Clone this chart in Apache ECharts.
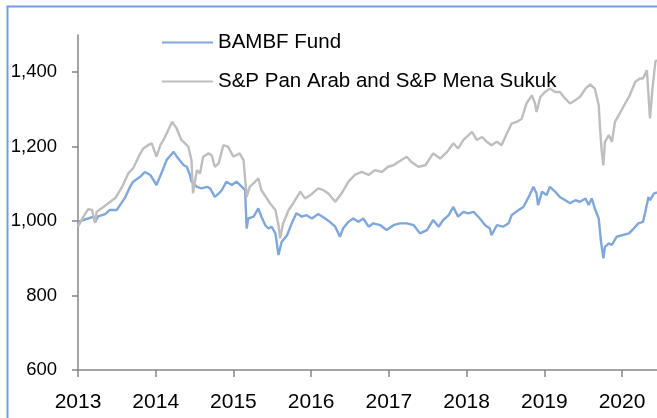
<!DOCTYPE html>
<html>
<head>
<meta charset="utf-8">
<script src="https://cdn.jsdelivr.net/npm/echarts@6/dist/echarts.min.js"></script>
<style>
  html, body { margin: 0; padding: 0; background: #fff; }
  #main { width: 657px; height: 418px; }
</style>
</head>
<body>
<div id="main"></div>
<script>
// tick labels
var yearTicks = [2013, 2014, 2015, 2016, 2017, 2018, 2019, 2020];
var valueTicks = [600, 800, 1000, 1200, 1400];

// series names
var fundName = 'BAMBF Fund';
var indexName = 'S&P Pan Arab and S&P Mena Sukuk';

// BAMBF Fund, [decimal year, value]
var fundData = [
  [2013.00, 998], [2013.07, 1003], [2013.13, 1007], [2013.20, 1012], [2013.22, 997],
  [2013.26, 1013], [2013.35, 1019], [2013.41, 1030], [2013.50, 1030], [2013.54, 1043],
  [2013.60, 1061], [2013.67, 1092], [2013.71, 1106], [2013.80, 1119], [2013.86, 1132],
  [2013.93, 1124], [2014.01, 1097], [2014.08, 1132], [2014.14, 1164], [2014.23, 1186],
  [2014.29, 1168], [2014.36, 1150], [2014.40, 1146], [2014.44, 1124], [2014.46, 1106],
  [2014.53, 1092], [2014.59, 1088], [2014.66, 1092], [2014.70, 1088], [2014.76, 1065],
  [2014.81, 1074], [2014.85, 1083], [2014.91, 1106], [2014.98, 1097], [2015.04, 1106],
  [2015.11, 1092], [2015.15, 1083], [2015.17, 980], [2015.19, 1007], [2015.26, 1012],
  [2015.32, 1034], [2015.36, 1012], [2015.41, 989], [2015.45, 980], [2015.49, 985],
  [2015.54, 967], [2015.58, 909], [2015.62, 944], [2015.69, 962], [2015.75, 994],
  [2015.81, 1021], [2015.88, 1012], [2015.94, 1016], [2016.01, 1007], [2016.09, 1019],
  [2016.18, 1007], [2016.24, 998], [2016.31, 985], [2016.37, 958], [2016.41, 980],
  [2016.48, 998], [2016.54, 1007], [2016.61, 998], [2016.67, 1007], [2016.74, 985],
  [2016.80, 994], [2016.89, 989], [2016.97, 976], [2017.06, 989], [2017.14, 994],
  [2017.23, 994], [2017.32, 989], [2017.40, 967], [2017.49, 976], [2017.57, 1003],
  [2017.64, 985], [2017.70, 1003], [2017.77, 1016], [2017.83, 1038], [2017.89, 1012],
  [2017.96, 1025], [2018.02, 1021], [2018.09, 1025], [2018.17, 1007], [2018.24, 989],
  [2018.30, 980], [2018.32, 962], [2018.39, 989], [2018.47, 985], [2018.54, 994],
  [2018.58, 1016], [2018.67, 1030], [2018.73, 1038], [2018.80, 1065], [2018.86, 1092],
  [2018.90, 1074], [2018.92, 1043], [2018.97, 1079], [2019.03, 1070], [2019.07, 1092],
  [2019.14, 1079], [2019.20, 1065], [2019.27, 1056], [2019.33, 1048], [2019.40, 1056],
  [2019.46, 1052], [2019.53, 1061], [2019.57, 1043], [2019.61, 1061], [2019.65, 1034],
  [2019.70, 1007], [2019.73, 944], [2019.76, 900], [2019.78, 931], [2019.83, 940],
  [2019.87, 936], [2019.93, 958], [2020.00, 962], [2020.09, 967], [2020.15, 980],
  [2020.21, 994], [2020.27, 998], [2020.30, 1025], [2020.34, 1065], [2020.36, 1056],
  [2020.41, 1074], [2020.45, 1077]
];

// S&P Pan Arab and S&P Mena Sukuk, [decimal year, value]
var indexData = [
  [2013.00, 985], [2013.07, 1012], [2013.13, 1032], [2013.18, 1030], [2013.22, 995],
  [2013.24, 1025], [2013.31, 1035], [2013.39, 1048], [2013.48, 1062], [2013.56, 1089],
  [2013.65, 1129], [2013.71, 1142], [2013.78, 1173], [2013.84, 1195], [2013.90, 1204],
  [2013.95, 1209], [2014.01, 1173], [2014.06, 1204], [2014.12, 1226], [2014.21, 1267],
  [2014.27, 1249], [2014.33, 1218], [2014.42, 1200], [2014.46, 1164], [2014.48, 1075],
  [2014.53, 1137], [2014.57, 1128], [2014.61, 1173], [2014.68, 1182], [2014.72, 1177],
  [2014.76, 1146], [2014.81, 1155], [2014.87, 1204], [2014.93, 1200], [2015.00, 1173],
  [2015.08, 1182], [2015.13, 1164], [2015.17, 1065], [2015.21, 1092], [2015.28, 1106],
  [2015.32, 1115], [2015.36, 1083], [2015.43, 1061], [2015.47, 1048], [2015.54, 1030],
  [2015.58, 989], [2015.60, 954], [2015.64, 994], [2015.71, 1030], [2015.77, 1048],
  [2015.86, 1079], [2015.92, 1061], [2015.99, 1070], [2016.09, 1088], [2016.16, 1083],
  [2016.22, 1074], [2016.31, 1052], [2016.39, 1074], [2016.48, 1106], [2016.56, 1124],
  [2016.65, 1132], [2016.74, 1124], [2016.82, 1137], [2016.91, 1132], [2016.99, 1146],
  [2017.06, 1150], [2017.12, 1159], [2017.23, 1173], [2017.29, 1159], [2017.38, 1146],
  [2017.47, 1150], [2017.57, 1182], [2017.66, 1168], [2017.75, 1186], [2017.83, 1209],
  [2017.89, 1195], [2017.96, 1218], [2018.07, 1240], [2018.13, 1218], [2018.20, 1226],
  [2018.26, 1213], [2018.32, 1204], [2018.39, 1213], [2018.45, 1204], [2018.52, 1236],
  [2018.58, 1262], [2018.65, 1267], [2018.71, 1275], [2018.77, 1316], [2018.84, 1338],
  [2018.88, 1316], [2018.90, 1293], [2018.95, 1334], [2019.01, 1347], [2019.07, 1356],
  [2019.14, 1347], [2019.20, 1347], [2019.27, 1329], [2019.33, 1316], [2019.40, 1325],
  [2019.46, 1334], [2019.53, 1356], [2019.59, 1367], [2019.65, 1356], [2019.70, 1311],
  [2019.72, 1240], [2019.74, 1186], [2019.76, 1150], [2019.78, 1213], [2019.83, 1231],
  [2019.87, 1213], [2019.91, 1267], [2019.98, 1293], [2020.04, 1316], [2020.10, 1338],
  [2020.17, 1374], [2020.23, 1383], [2020.27, 1383], [2020.32, 1405], [2020.36, 1276],
  [2020.39, 1352], [2020.43, 1430], [2020.45, 1432]
];

var chart = echarts.init(document.getElementById('main'));
var font = 'Liberation Sans';

var option = {
  animation: false,
  backgroundColor: '#fff',
  graphic: [{
    type: 'rect',
    left: 5, top: 4,
    shape: { width: 700, height: 460 },
    style: { fill: 'none', stroke: '#6f9fdc', lineWidth: 2 },
    silent: true
  }],
  grid: { left: 78, right: 0, top: 35, bottom: 48 },
  legend: {
    orient: 'vertical',
    left: 157, top: 27,
    icon: 'rect',
    itemWidth: 51, itemHeight: 2,
    itemGap: 18,
    textStyle: { fontFamily: font, fontSize: 20.5, color: '#000', lineHeight: 21 },
    data: [fundName, indexName]
  },
  xAxis: {
    type: 'value',
    min: 2013, max: 2020.45,
    interval: 1,
    splitLine: { show: false },
    axisLine: { lineStyle: { color: '#868686', width: 1.5 } },
    axisTick: { show: true, length: 7, customValues: yearTicks, lineStyle: { color: '#868686', width: 1.5 } },
    axisLabel: {
      customValues: yearTicks,
      margin: 22,
      fontFamily: font, fontSize: 21, color: '#000',
      formatter: function (v) { return String(v); }
    }
  },
  yAxis: {
    type: 'value',
    min: 600, max: 1500,
    interval: 200,
    splitLine: { show: false },
    axisLine: { show: true, lineStyle: { color: '#868686', width: 1.5 } },
    axisTick: { show: true, length: 6, customValues: valueTicks, lineStyle: { color: '#868686', width: 1.5 } },
    axisLabel: {
      customValues: valueTicks,
      margin: 21,
      fontFamily: font, fontSize: 18.5, color: '#000',
      formatter: function (v) { return v.toLocaleString('en-US'); }
    }
  },
  series: [
    {
      name: fundName,
      type: 'line',
      data: fundData,
      symbol: 'none',
      lineStyle: { color: '#7fa7da', width: 2.4 },
      itemStyle: { color: '#7fa7da' }
    },
    {
      name: indexName,
      type: 'line',
      data: indexData,
      symbol: 'none',
      lineStyle: { color: '#bebebe', width: 2.4 },
      itemStyle: { color: '#bebebe' }
    }
  ]
};
chart.setOption(option);
</script>
</body>
</html>
